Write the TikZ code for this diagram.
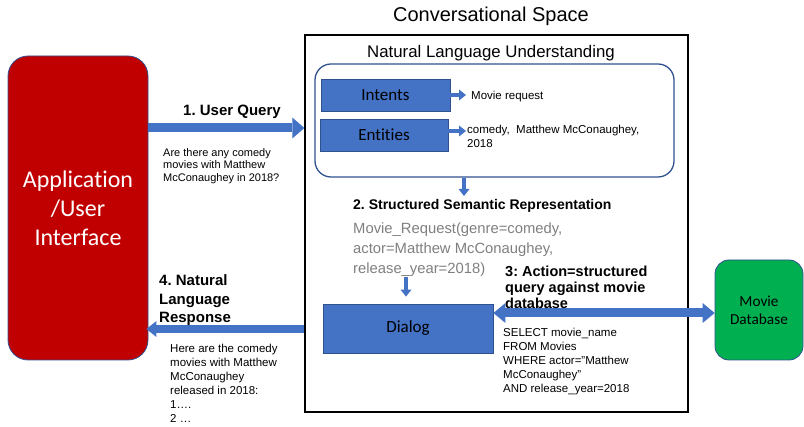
\documentclass[tikz,border=0pt]{standalone}
\usepackage{fontspec}
\setmainfont{Liberation Sans}
\newfontfamily\calfont[Ligatures={NoCommon,NoContextual}]{Carlito}
\usetikzlibrary{arrows.meta}
\definecolor{bl}{HTML}{4472C4}
\definecolor{bdr}{HTML}{2F528F}
\definecolor{appred}{HTML}{C00000}
\definecolor{dbgreen}{HTML}{00B050}
\definecolor{gtxt}{HTML}{7F7F7F}
\frenchspacing
\begin{document}
\begin{tikzpicture}[x=1pt,y=-1pt,
  bluebox/.style={draw=bdr, line width=0.8pt, fill=bl, inner sep=0pt, font=\calfont\fontsize{17}{20}\selectfont},
  txt/.style={inner sep=0pt, align=left, anchor=north west},
  boldlbl/.style={inner sep=0pt, align=left, font=\bfseries\fontsize{14.5}{17}\selectfont},
  smallarr/.style={line width=4.5pt, draw=bl, -{Triangle[length=7pt,width=11pt,line width=0pt]}},
  bigarr/.style={line width=9pt, draw=bl, -{Triangle[length=12pt,width=21pt,line width=0pt]}},
  dblarr/.style={line width=9pt, draw=bl, {Triangle[length=12pt,width=20pt,line width=0pt]}-{Triangle[length=12pt,width=20pt,line width=0pt]}}
]
\useasboundingbox (0,0) rectangle (804,427);
% outer conversational space
\node[draw, line width=1.3pt, minimum width=383pt, minimum height=377pt, inner sep=0pt] (outer) at (496.5,223.5) {};
\node[inner sep=0pt, font=\fontsize{20}{24}\selectfont] (title) at (491,16) {Conversational Space};
% application box
\node[draw=bdr, line width=0.8pt, fill=appred, rounded corners=20pt, minimum width=140pt, minimum height=304pt,
      text=white, align=center, font=\calfont\fontsize{24}{29}\selectfont] (app) at (78,208) {Application\\/User\\Interface};
% NLU
\node[draw=bdr, line width=1.3pt, rounded corners=16pt, minimum width=359pt, minimum height=113pt] (nlu) at (494.5,120.5) {};
\node[inner sep=0pt, font=\fontsize{16.8}{20}\selectfont] (nlul) at (491,53) {Natural Language Understanding};
\node[bluebox, minimum width=129pt, minimum height=32pt] (intents) at (385.5,95) {Intents};
\node[bluebox, minimum width=128pt, minimum height=32pt] (entities) at (384,135) {Entities};
\node[txt, anchor=west, font=\fontsize{11.5}{14}\selectfont] (mr) at (471,97) {Movie request};
\node[txt, font=\fontsize{11.5}{14}\selectfont] (ent) at (467,124.5) {comedy,\ \ Matthew McConaughey,\\2018};
\draw[smallarr, shorten >=5pt] (intents.east) -- (intents.east -| mr.west);
\coordinate (entarr) at ([yshift=4pt]entities.east);
\draw[smallarr, shorten >=1pt] (entarr) -- (entarr -| ent.west);
% semantic representation
\coordinate (a1) at (464,196);
\draw[smallarr] (nlu.south -| a1) -- (a1);
\node[boldlbl, anchor=west, font=\bfseries\fontsize{14}{17}\selectfont] (ssr) at (353,206) {2. Structured Semantic Representation};
\node[txt, text=gtxt, font=\fontsize{14.8}{20}\selectfont] (sem) at (353,222.5) {Movie\_Request(genre=comedy,\\actor=Matthew McConaughey,\\release\_year=2018)};
% dialog
\node[bluebox, minimum width=170pt, minimum height=49pt] (dialog) at (408,328.5) {Dialog};
\coordinate (a2) at (406,277);
\draw[smallarr, shorten >=7pt] (a2) -- (a2 |- dialog.north);
% database
\node[draw=bdr, line width=0.8pt, fill=dbgreen, rounded corners=14pt, minimum width=88pt, minimum height=100pt,
      align=center, font=\calfont\fontsize{15.3}{18}\selectfont] (db) at (759,310) {Movie\\Database};
\coordinate (dbin) at ([yshift=-3pt]db.west);
\draw[dblarr] (dbin -| dialog.east) -- (dbin);
\node[boldlbl, anchor=north west, font=\bfseries\fontsize{14.5}{16}\selectfont] (act) at (505,265.5) {3: Action=structured\\query against movie\\database};
\node[txt, font=\fontsize{11.5}{14}\selectfont] (sql) at (503,328) {SELECT movie\_name\\FROM Movies\\WHERE actor="Matthew\\McConaughey"\\AND release\_year=2018};
% user query
\node[boldlbl, font=\bfseries\fontsize{15}{18}\selectfont] (uq) at (232,112) {1. User Query};
\node[txt, font=\fontsize{11}{12.5}\selectfont] (q) at (163,148) {Are there any comedy\\movies with Matthew\\McConaughey in 2018?};
\coordinate (c1) at (0,128);
\draw[bigarr] (c1 -| app.east) -- (c1 -| outer.west);
% response
\node[boldlbl, anchor=north west, font=\bfseries\fontsize{15}{18.5}\selectfont] (nlr) at (159,274.5) {4. Natural\\Language\\Response};
\node[txt, font=\fontsize{11.5}{14}\selectfont] (resp) at (170,343.5) {Here are the comedy\\movies with Matthew\\McConaughey\\released in 2018:\\1….\\2 …};
\coordinate (c4) at (0,329);
\draw[bigarr, line width=8pt, -{Triangle[length=10pt,width=16pt,line width=0pt]}, shorten >=-2pt] (c4 -| outer.west) -- (c4 -| app.east);
\end{tikzpicture}
\end{document}
